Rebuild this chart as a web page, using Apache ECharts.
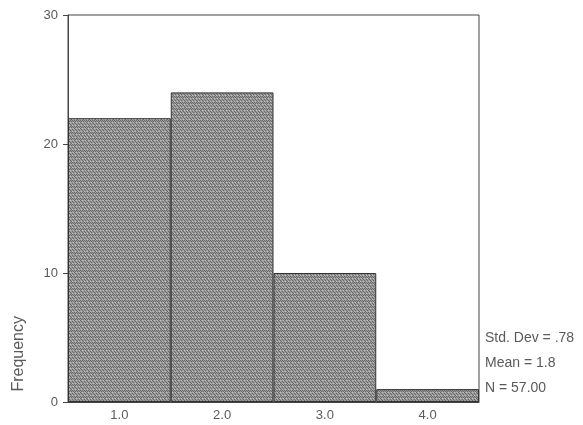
<!DOCTYPE html>
<html><head><meta charset="utf-8">
<script src="https://cdn.jsdelivr.net/npm/echarts@6/dist/echarts.min.js"></script>
<style>html,body{margin:0;padding:0;background:#fff}#c{width:583px;height:425px}</style>
</head><body><div id="c"></div>
<script>
const categories = ['1.0', '2.0', '3.0', '4.0'];
const frequencies = [22, 24, 10, 1];
const yTicks = [0, 10, 20, 30];
const statsLines = ['Std. Dev = .78', 'Mean = 1.8', 'N = 57.00'];

// halftone-like texture for bars
const pc = document.createElement('canvas');
pc.width = 6; pc.height = 6;
const g = pc.getContext('2d');
g.fillStyle = '#9c9c9c'; g.fillRect(0, 0, 6, 6);
g.fillStyle = '#686868';
[[0,0],[2,0],[4,0],[1,1],[3,1],[5,1],[0,3],[3,3],[1,4],[4,4],[2,2],[5,5]].forEach(p => g.fillRect(p[0], p[1], 1, 1));
g.fillStyle = '#c0c0c0';
[[1,2],[4,2],[0,5],[3,5]].forEach(p => g.fillRect(p[0], p[1], 1, 1));

const chart = echarts.init(document.getElementById('c'));
const labelStyle = {color: '#5a5a5a', fontFamily: 'Liberation Sans, Arial, sans-serif', fontSize: 13};
chart.setOption({
  animation: false,
  backgroundColor: '#fff',
  grid: {left: 68, right: 104, top: 15, bottom: 23, show: true, borderColor: '#444', borderWidth: 1},
  xAxis: {
    type: 'category', data: categories,
    axisLine: {lineStyle: {color: '#444'}},
    axisTick: {alignWithLabel: true, length: 4, lineStyle: {color: '#444'}},
    axisLabel: Object.assign({margin: 7}, labelStyle)
  },
  yAxis: {
    type: 'value', min: yTicks[0], max: yTicks[yTicks.length - 1], interval: 10,
    splitLine: {show: false},
    axisLine: {show: true, lineStyle: {color: '#444'}},
    axisTick: {show: true, length: 5, lineStyle: {color: '#444'}},
    axisLabel: Object.assign({margin: 10}, labelStyle)
  },
  series: [{
    type: 'bar', data: frequencies, barWidth: '100%', barCategoryGap: 0,
    itemStyle: {color: {image: pc, repeat: 'repeat'}, borderColor: '#333', borderWidth: 1}
  }],
  graphic: [
    {type: 'text', left: 11, top: 316, rotation: Math.PI / 2,
     style: {text: 'Frequency', fill: '#5a5a5a', font: '16px Liberation Sans, Arial, sans-serif'}},
    ...statsLines.map((t, i) => ({
      type: 'text', left: 485, top: 331 + i * 25,
      style: {text: t, fill: '#5a5a5a', font: '14px Liberation Sans, Arial, sans-serif'}
    }))
  ]
});
</script></body></html>
